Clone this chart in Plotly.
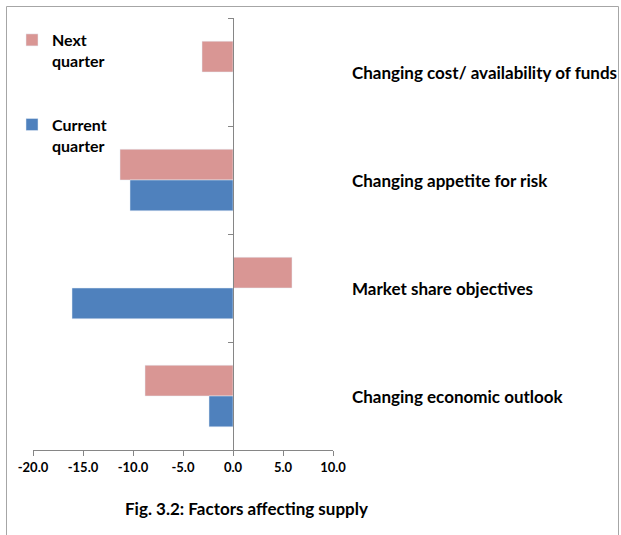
import plotly.graph_objects as go

categories = ["Changing cost/ availability of funds", "Changing appetite for risk",
              "Market share objectives", "Changing economic outlook"]
current_quarter = [0.0, -10.3, -16.1, -2.4]
next_quarter = [-3.1, -11.3, 5.9, -8.8]
x_ticks = [-20, -15, -10, -5, 0, 5, 10]
x_tick_labels = ["-20.0", "-15.0", "-10.0", "-5.0", "0.0", "5.0", "10.0"]
caption = "Fig. 3.2: Factors affecting supply"

FONT = "Lato"
W, H = 621, 535
L, R, T, B = 33, 288, 18, 85
pw, ph = W - L - R, H - T - B

def px(xpix):
    return (xpix - L) / pw

def py(ypix):
    return 1 - (ypix - T) / ph

fig = go.Figure()
fig.add_trace(go.Bar(y=categories, x=next_quarter, orientation="h",
                     name="Next<br>quarter", marker_color="#D99694",
                     legendgroup="n", legendrank=1))
fig.add_trace(go.Bar(y=categories, x=current_quarter, orientation="h",
                     name="Current<br>quarter", marker_color="#4F81BD",
                     legendgroup="c", legendrank=2))

annotations = [
    dict(x=px(350), y=c, xref="paper", yref="y", text=c, showarrow=False,
         xanchor="left", yanchor="middle",
         font=dict(family=FONT, size=17, color="#000000", weight="bold"))
    for c in categories
]
annotations.append(dict(x=px(246), y=py(508), xref="paper", yref="paper", text=caption,
                        showarrow=False, xanchor="center", yanchor="middle",
                        font=dict(family=FONT, size=17, color="#000000", weight="bold")))

x_lo, x_hi = x_ticks[0], x_ticks[-1]
fig.update_layout(
    width=W, height=H,
    margin=dict(l=L, r=R, t=T, b=B, autoexpand=False),
    paper_bgcolor="white", plot_bgcolor="white",
    barmode="group", bargap=0.43, bargroupgap=0,
    xaxis=dict(range=[x_lo, x_hi], tickvals=x_ticks, ticktext=x_tick_labels,
               showgrid=False, zeroline=False, showline=True, linecolor="#868686",
               linewidth=1, ticks="outside", ticklen=5, tickcolor="#868686",
               tickfont=dict(family=FONT, size=13, color="#000000", weight="bold")),
    yaxis=dict(type="category", categoryorder="array", categoryarray=categories,
               range=[len(categories) - 0.5, -0.5], anchor="free",
               position=(0 - x_lo) / (x_hi - x_lo), showline=True, linecolor="#868686",
               linewidth=1, ticks="outside", ticklen=5, tickcolor="#868686",
               tickson="boundaries", showticklabels=False, showgrid=False, zeroline=False),
    showlegend=True,
    legend=dict(x=px(12), y=py(23), xanchor="left", yanchor="top",
                traceorder="grouped", tracegroupgap=40, valign="top",
                itemwidth=30, bgcolor="rgba(0,0,0,0)",
                font=dict(family=FONT, size=16, color="#000000", weight="bold")),
    annotations=annotations,
    shapes=[dict(type="rect", xref="paper", yref="paper",
                 x0=px(6.5), x1=px(618.5), y0=py(560), y1=py(6.5),
                 line=dict(color="#A6A6A6", width=1), fillcolor="rgba(0,0,0,0)", layer="below")],
)

fig.write_html("out.html", config={"displayModeBar": False},
               post_script="document.body.style.margin='0';document.body.style.overflow='hidden';")
